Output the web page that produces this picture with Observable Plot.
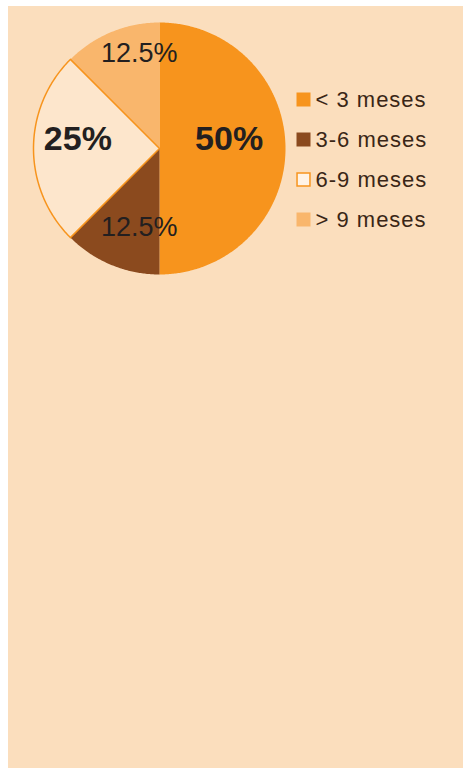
<!DOCTYPE html>
<html><head><meta charset="utf-8">
<script src="https://cdn.jsdelivr.net/npm/d3@7"></script>
<script src="https://cdn.jsdelivr.net/npm/@observablehq/plot@0.6"></script>
<style>
html,body{margin:0;padding:0;background:#fff;width:463px;height:768px;overflow:hidden}
#bg{position:absolute;left:8px;top:6px;width:455px;height:762px;background:#FBDEBD}
#pie{position:absolute;left:0;top:0}
#legend{position:absolute;left:280px;top:70px}
svg{overflow:visible}
</style></head><body>
<div id="bg"></div><div id="pie"></div><div id="legend"></div>
<script>
const categories = ["< 3 meses", "3-6 meses", "6-9 meses", "> 9 meses"];
const values = [50, 12.5, 25, 12.5];
const labels = ["50%", "12.5%", "25%", "12.5%"];
const colors = ["#F7941D", "#8B4A1E", "#FDE6CC", "#F9B66C"];

const font = "'Liberation Sans', Arial, Helvetica, sans-serif";
const rows = categories.map((c, i) => ({category: c, value: values[i], label: labels[i]}));
const arcs = d3.pie().sort(null).value(d => d.value)(rows);
const slices = arcs.map(p => {
  const n = Math.max(2, Math.ceil((p.endAngle - p.startAngle) / 0.01));
  const ring = [[0, 0]];
  for (let k = 0; k <= n; k++) {
    const a = p.startAngle + (p.endAngle - p.startAngle) * k / n;
    ring.push([Math.sin(a), -Math.cos(a)]);
  }
  ring.push([0, 0]);
  return {type: "Feature",
    properties: {...p.data, mid: (p.startAngle + p.endAngle) / 2},
    geometry: {type: "Polygon", coordinates: [ring]}};
});
const labelData = slices.map(s => s.properties);
const big = labelData.filter(d => d.value >= 25);
const small = labelData.filter(d => d.value < 25);

const piePlot = Plot.plot({
  width: 300, height: 290,
  marginTop: 22, marginBottom: 16, marginLeft: 33, marginRight: 15,
  projection: {type: "identity", domain: {type: "FeatureCollection", features: slices}},
  color: {domain: categories, range: colors},
  style: {background: "transparent", fontFamily: font},
  marks: [
    Plot.geo(slices, {fill: d => d.properties.category}),
    Plot.geo(slices, {filter: d => d.properties.category === "6-9 meses", fill: "none", stroke: "#F7941D", strokeWidth: 1.5}),
    Plot.text(big, {x: d => Math.sin(d.mid) * 0.6, y: d => -Math.cos(d.mid) * 0.6, text: "label",
      fontSize: 34, fontWeight: "bold", dx: -6, dy: -9, fill: "#231F20"}),
    Plot.text(small, {x: d => Math.sin(d.mid) * 0.75, y: d => -Math.cos(d.mid) * 0.75, text: "label",
      fontSize: 27, dx: 16, dy: -8, fill: "#231F20"})
  ]
});
document.getElementById("pie").appendChild(piePlot);

const legendPlot = Plot.plot({
  width: 170, height: 170,
  marginTop: 27.5, marginBottom: 20, marginLeft: 23, marginRight: 0,
  y: {type: "point", domain: categories, padding: 0, axis: null},
  color: {domain: categories, range: colors},
  style: {background: "transparent", fontFamily: font, letterSpacing: "1px"},
  marks: [
    Plot.dot(categories, {y: d => d, frameAnchor: "left", symbol: "square", r: 7.9, fill: d => d}),
    Plot.dot(categories, {filter: d => d === "6-9 meses", y: d => d, frameAnchor: "left", symbol: "square", r: 7.3,
      fill: "#FFF3E6", stroke: "#F7941D", strokeWidth: 1.5}),
    Plot.text(categories, {y: d => d, frameAnchor: "left", dx: 12, textAnchor: "start", text: d => d,
      fontSize: 22, fill: "#3A2616"})
  ]
});
document.getElementById("legend").appendChild(legendPlot);
</script>
</body></html>
